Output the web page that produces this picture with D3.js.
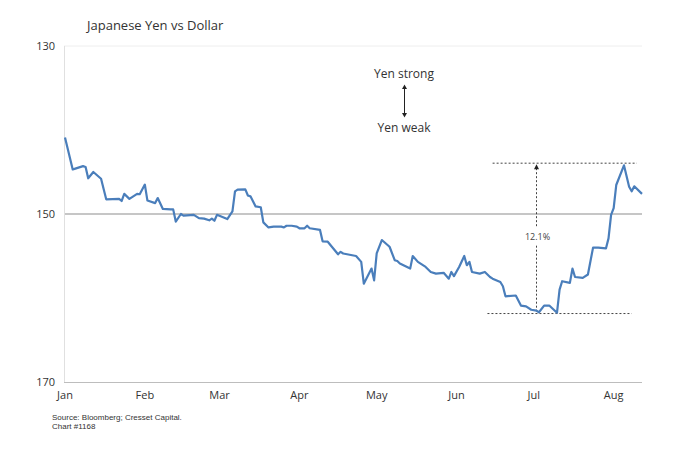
<!DOCTYPE html>
<html><head><meta charset="utf-8">
<script src="https://cdn.jsdelivr.net/npm/d3@7"></script>
<style>
body{margin:0;background:#fff;}
text{font-family:"Open Sans",Lato,sans-serif;fill:#333;}
</style></head>
<body><svg id="c" width="680" height="462"></svg>
<script>
const dates = ["2024-01-01","2024-01-04","2024-01-05","2024-01-08","2024-01-09","2024-01-10","2024-01-12","2024-01-15","2024-01-17","2024-01-22","2024-01-23","2024-01-24","2024-01-26","2024-01-29","2024-01-30","2024-02-01","2024-02-02","2024-02-05","2024-02-06","2024-02-08","2024-02-11","2024-02-12","2024-02-13","2024-02-15","2024-02-16","2024-02-20","2024-02-22","2024-02-24","2024-02-26","2024-02-27","2024-02-28","2024-02-29","2024-03-04","2024-03-06","2024-03-07","2024-03-08","2024-03-11","2024-03-12","2024-03-13","2024-03-15","2024-03-17","2024-03-18","2024-03-20","2024-03-22","2024-03-25","2024-03-26","2024-03-27","2024-03-29","2024-03-31","2024-04-01","2024-04-03","2024-04-04","2024-04-05","2024-04-09","2024-04-10","2024-04-12","2024-04-16","2024-04-17","2024-04-18","2024-04-23","2024-04-25","2024-04-26","2024-04-29","2024-04-30","2024-05-01","2024-05-03","2024-05-06","2024-05-08","2024-05-09","2024-05-10","2024-05-14","2024-05-15","2024-05-17","2024-05-20","2024-05-22","2024-05-24","2024-05-27","2024-05-29","2024-05-30","2024-05-31","2024-06-02","2024-06-04","2024-06-05","2024-06-06","2024-06-07","2024-06-10","2024-06-12","2024-06-14","2024-06-15","2024-06-18","2024-06-19","2024-06-20","2024-06-24","2024-06-26","2024-06-28","2024-06-30","2024-07-02","2024-07-03","2024-07-05","2024-07-07","2024-07-10","2024-07-11","2024-07-12","2024-07-15","2024-07-16","2024-07-17","2024-07-20","2024-07-22","2024-07-24","2024-07-26","2024-07-29","2024-07-30","2024-07-31","2024-08-01","2024-08-02","2024-08-05","2024-08-07","2024-08-08","2024-08-09","2024-08-12"];
const usdjpy = [140.9,144.7,144.6,144.3,144.4,145.75,145.0,145.8,148.25,148.2,148.45,147.6,148.2,147.6,147.65,146.5,148.4,148.7,148.1,149.4,149.45,149.45,150.9,150.0,150.2,150.1,150.5,150.55,150.75,150.55,150.8,150.1,150.6,149.7,147.3,147.1,147.06,147.8,147.9,149.1,149.2,151.0,151.6,151.5,151.5,151.6,151.4,151.4,151.5,151.7,151.7,151.4,151.7,151.9,153.25,153.3,154.8,154.5,154.7,155.0,155.7,158.3,156.5,157.9,154.7,153.1,153.9,155.5,155.6,155.9,156.5,155.0,155.7,156.3,156.9,157.1,157.0,157.7,156.9,157.4,156.3,155.0,156.1,155.7,156.9,157.1,156.9,157.5,157.7,158.1,158.6,159.8,159.7,160.9,161.0,161.4,161.5,161.7,160.9,160.9,161.75,159.0,158.0,158.2,156.5,157.5,157.6,157.2,154.0,154.0,154.1,152.9,150.1,149.3,146.55,144.2,146.75,147.3,146.7,147.6];
const yTicks = [130,150,170];
const monthTicks = ["2024-01-01","2024-02-01","2024-03-01","2024-04-01","2024-05-01","2024-06-01","2024-07-01","2024-08-01"];
const monthLabels = ["Jan","Feb","Mar","Apr","May","Jun","Jul","Aug"];
const annoHigh = 143.95, annoLow = 161.85;
const annoHighRange = ["2024-06-15","2024-08-10"];
const annoLowRange = ["2024-06-13","2024-08-08"];
const annoVDate = "2024-07-02";
const annoLabel = "12.1%", annoLabelValue = 152.7;

const parse = d3.timeParse("%Y-%m-%d");
const data = dates.map((d,i)=>({date:parse(d), v:usdjpy[i]}));
const svg = d3.select("#c");
const x = d3.scaleTime().domain([parse("2024-01-01"), parse("2024-08-12")]).range([65,642]);
const y = d3.scaleLinear().domain([130,170]).range([46,382]);

svg.append("line").attr("x1",64).attr("x2",642).attr("y1",y(130)).attr("y2",y(130)).attr("stroke","#eeeeee").attr("stroke-width",1);
svg.append("line").attr("x1",64).attr("x2",642).attr("y1",y(150)).attr("y2",y(150)).attr("stroke","#c6c6c6").attr("stroke-width",2);
svg.append("line").attr("x1",64.5).attr("x2",64.5).attr("y1",46).attr("y2",383).attr("stroke","#e0e0e0").attr("stroke-width",1);
svg.append("line").attr("x1",64).attr("x2",642).attr("y1",382.5).attr("y2",382.5).attr("stroke","#bdbdbd").attr("stroke-width",1);

svg.append("g").selectAll("text").data(yTicks).join("text")
  .attr("x",55).attr("y",d=>y(d)).attr("dy","0.35em").attr("text-anchor","end")
  .style("font-size","11px").text(d=>d);
svg.append("g").selectAll("text").data(monthTicks).join("text")
  .attr("x",d=>x(parse(d))).attr("y",395).attr("dy","0.35em").attr("text-anchor","middle")
  .style("font-size","11px").text((d,i)=>monthLabels[i]);

const dash = "2,2";
svg.append("line").attr("x1",x(parse(annoHighRange[0]))).attr("x2",x(parse(annoHighRange[1])))
  .attr("y1",y(annoHigh)).attr("y2",y(annoHigh)).attr("stroke","#444").attr("stroke-dasharray",dash);
svg.append("line").attr("x1",x(parse(annoLowRange[0]))).attr("x2",x(parse(annoLowRange[1])))
  .attr("y1",y(annoLow)).attr("y2",y(annoLow)).attr("stroke","#444").attr("stroke-dasharray",dash);
const vx = Math.round(x(parse(annoVDate)))+0.5;
svg.append("line").attr("x1",vx).attr("x2",vx).attr("y1",y(annoHigh)+5).attr("y2",y(annoLabelValue)-9)
  .attr("stroke","#444").attr("stroke-dasharray",dash);
svg.append("line").attr("x1",vx).attr("x2",vx).attr("y1",y(annoLabelValue)+9).attr("y2",y(annoLow))
  .attr("stroke","#444").attr("stroke-dasharray",dash);
svg.append("path").attr("d",`M${vx-2.5},${y(annoHigh)+6}L${vx},${y(annoHigh)+1}L${vx+2.5},${y(annoHigh)+6}Z`).attr("fill","#222");
svg.append("text").attr("x",vx+1).attr("y",y(annoLabelValue)).attr("dy","0.35em").attr("text-anchor","middle")
  .style("font-size","9px").style("fill","#444").text(annoLabel);

svg.append("path").datum(data)
  .attr("d", d3.line().x(d=>x(d.date)).y(d=>y(d.v)))
  .attr("fill","none").attr("stroke","#4a7ebb").attr("stroke-width",2.2).attr("stroke-linejoin","round");

svg.append("text").attr("x",87).attr("y",25).attr("dy","0.35em").style("font-size","13px").text("Japanese Yen vs Dollar");

svg.append("text").attr("x",404).attr("y",74).attr("dy","0.35em").attr("text-anchor","middle").style("font-size","12px").text("Yen strong");
svg.append("text").attr("x",404).attr("y",128).attr("dy","0.35em").attr("text-anchor","middle").style("font-size","12px").text("Yen weak");
svg.append("line").attr("x1",404.5).attr("x2",404.5).attr("y1",88).attr("y2",114).attr("stroke","#222").attr("stroke-width",1);
svg.append("path").attr("d","M402,89L404.5,84.5L407,89Z").attr("fill","#222");
svg.append("path").attr("d","M402,113L404.5,117.5L407,113Z").attr("fill","#222");

svg.append("text").attr("x",52).attr("y",417).attr("dy","0.35em").style("font-family","Liberation Sans, Arial, sans-serif").style("font-size","8px").text("Source: Bloomberg; Cresset Capital.");
svg.append("text").attr("x",52).attr("y",426).attr("dy","0.35em").style("font-family","Liberation Sans, Arial, sans-serif").style("font-size","8px").text("Chart #1168");
</script></body></html>
